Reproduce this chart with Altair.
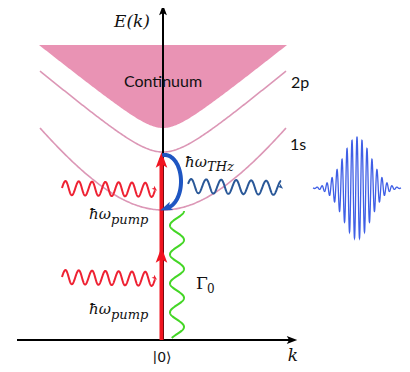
import numpy as np
import pandas as pd
import altair as alt

# ---- frame: data units are the reference picture's pixel positions ----
X_DOMAIN = [8, 402]
Y_DOMAIN = [8, 364]
W, H = 394, 356

# ---- energy axes ----
K0 = 163            # k = 0 position
E_BASE = 340        # ground state |0>
E_TOP = 12
K_LEFT, K_RIGHT = 17, 290

# ---- bands: continuum, 2p, 1s (vertex level, edge level, half width, roundness) ----
band_names = ["Continuum", "2p", "1s"]
band_vertex = [128, 152, 210]
band_edge = [45, 71, 128]
band_half_width = [124, 123, 123]
band_round = [22, 30, 110]

# ---- wavy photons: start, end, amplitude, period, phase, colour, width ----
wave_names = ["pump1", "pump2", "thz", "gamma"]
wave_start = [(62, 188), (62, 277), (188, 186), (177, 211)]
wave_end = [(155, 190), (155, 279), (281, 188), (177, 338)]
wave_amp = [7, 7, 7, 7]
wave_period = [13.3, 13.3, 15, 29]
wave_phase = [0.0, 0.0, 0.3, 1.6]
wave_color = ["#EE2233", "#EE2233", "#2A5898", "#44D626"]
wave_width = [2.0, 2.0, 2.0, 2.0]

# ---- THz pulse ----
pulse_center = (357, 188)
pulse_amp = 51
pulse_sigma = 14
pulse_period = 5.0
pulse_range = (313, 401)


def band_curve(vy, ey, hw, a, n=200):
    x = np.linspace(-hw, hw, n)
    f = lambda d: np.sqrt(1 + (d / a) ** 2) - 1
    y = vy - (vy - ey) * f(x) / f(hw)
    return K0 + x, y


def wave(p0, p1, amp, period, phase, n=500):
    (x0, y0), (x1, y1) = p0, p1
    L = np.hypot(x1 - x0, y1 - y0)
    ux, uy = (x1 - x0) / L, (y1 - y0) / L
    nx, ny = -uy, ux
    s = np.linspace(0, L, n)
    off = -amp * np.sin(2 * np.pi * s / period + phase)
    return x0 + ux * s + nx * off, y0 + uy * s + ny * off


xs = alt.Scale(domain=X_DOMAIN, nice=False, zero=False)
ys = alt.Scale(domain=Y_DOMAIN, nice=False, zero=False, reverse=True)


def X(f="x"):
    return alt.X(f"{f}:Q", scale=xs, axis=None)


def Y(f="y"):
    return alt.Y(f"{f}:Q", scale=ys, axis=None)


layers = []

# continuum fill
cx, cy = band_curve(band_vertex[0], band_edge[0], band_half_width[0], band_round[0])
cont = pd.DataFrame({"x": cx, "y": cy, "y2": band_edge[0]})
layers.append(
    alt.Chart(cont).mark_area(color="#E993B4", opacity=1, orient="vertical").encode(
        x=X(), y=Y(), y2="y2:Q"
    )
)

# exciton bands
rows = []
for k in (1, 2):
    bx, by = band_curve(band_vertex[k], band_edge[k], band_half_width[k], band_round[k])
    for i, (a, b) in enumerate(zip(bx, by)):
        rows.append({"id": band_names[k], "i": i, "x": a, "y": b})
layers.append(
    alt.Chart(pd.DataFrame(rows)).mark_line(color="#DC97B6", strokeWidth=1.6).encode(
        x=X(), y=Y(), detail="id:N", order="i:Q"
    )
)

# axes
axes = pd.DataFrame(
    {
        "x": [K0, K_LEFT],
        "y": [E_BASE, E_BASE],
        "x2": [K0, K_RIGHT],
        "y2": [E_TOP, E_BASE],
    }
)
layers.append(
    alt.Chart(axes).mark_rule(color="#000000", strokeWidth=2).encode(
        x=X(), y=Y(), x2="x2:Q", y2="y2:Q"
    )
)
ax_heads = pd.DataFrame({"x": [K0, K_RIGHT + 2], "y": [E_TOP - 2, E_BASE], "angle": [270, 0]})
arrow_path = "M1,0 L-1,-0.75 L-0.55,0 L-1,0.75 Z"
layers.append(
    alt.Chart(ax_heads).mark_point(shape=arrow_path, filled=True, color="#000000", size=110, opacity=1).encode(
        x=X(), y=Y(), angle=alt.Angle("angle:Q", scale=None)
    )
)

# wavy photons
rows = []
for n, p0, p1, a, per, ph, col, w in zip(
    wave_names, wave_start, wave_end, wave_amp, wave_period, wave_phase, wave_color, wave_width
):
    wx, wy = wave(p0, p1, a, per, ph)
    for i, (u, v) in enumerate(zip(wx, wy)):
        rows.append({"id": n, "i": i, "x": u, "y": v, "c": col, "w": w})
layers.append(
    alt.Chart(pd.DataFrame(rows)).mark_line().encode(
        x=X(), y=Y(), detail="id:N", order="i:Q",
        color=alt.Color("c:N", scale=None),
        strokeWidth=alt.StrokeWidth("w:Q", scale=None),
    )
)
# small arrow tips on the pump / THz photons
tips = pd.DataFrame(
    {
        "x": [wave_end[0][0], wave_end[1][0], wave_end[2][0]],
        "y": [wave_end[0][1] - 1, wave_end[1][1] - 1, wave_end[2][1] - 1],
        "angle": [40, 40, 40],
        "c": [wave_color[0], wave_color[1], wave_color[2]],
    }
)
layers.append(
    alt.Chart(tips).mark_point(shape=arrow_path, filled=True, size=30, opacity=1).encode(
        x=X(), y=Y(), angle=alt.Angle("angle:Q", scale=None), color=alt.Color("c:N", scale=None)
    )
)

# red pump arrow
red = pd.DataFrame({"x": [161.5], "y": [E_BASE], "y2": [band_vertex[1] + 6]})
layers.append(
    alt.Chart(red).mark_rule(color="#F01420", strokeWidth=4).encode(x=X(), y=Y(), y2="y2:Q")
)
red_heads = pd.DataFrame({"x": [161.5, 161.5], "y": [band_vertex[1] + 8, 255], "angle": [270, 270]})
layers.append(
    alt.Chart(red_heads).mark_point(shape=arrow_path, filled=True, color="#F01420", size=240, opacity=1).encode(
        x=X(), y=Y(), angle=alt.Angle("angle:Q", scale=None)
    )
)

# blue THz transition arc
t = np.radians(np.linspace(-100, 76, 120))
arc = pd.DataFrame({"i": range(len(t)), "x": 165 + 16 * np.cos(t), "y": 181.5 + 26.5 * np.sin(t)})
layers.append(
    alt.Chart(arc).mark_line(color="#1F56C2", strokeWidth=4).encode(x=X(), y=Y(), order="i:Q")
)
te = np.radians(76)
arc_head = pd.DataFrame({"x": [165 + 16 * np.cos(te) - 3], "y": [181.5 + 26.5 * np.sin(te) + 1],
                         "angle": [np.degrees(np.arctan2(26.5 * np.cos(te), -16 * np.sin(te)))]})
layers.append(
    alt.Chart(arc_head).mark_point(shape=arrow_path, filled=True, color="#1F56C2", size=150, opacity=1).encode(
        x=X(), y=Y(), angle=alt.Angle("angle:Q", scale=None)
    )
)

# THz pulse
px = np.linspace(pulse_range[0], pulse_range[1], 900)
env = np.exp(-((px - pulse_center[0]) ** 2) / (2 * pulse_sigma ** 2))
py = pulse_center[1] - pulse_amp * env * np.cos(2 * np.pi * (px - pulse_center[0]) / pulse_period)
layers.append(
    alt.Chart(pd.DataFrame({"i": range(len(px)), "x": px, "y": py})).mark_line(
        color="#3F5FE6", strokeWidth=1.3
    ).encode(x=X(), y=Y(), order="i:Q")
)


# ---- text ----
def txt(df, **kw):
    return alt.Chart(df).mark_text(**kw).encode(x=X(), y=Y(), text="t:N")


sans = pd.DataFrame({"t": ["Continuum", "2p", "1s"], "x": [163, 300, 298], "y": [82, 83, 145]})
layers.append(txt(sans, font="Lato", fontSize=16, color="#111111", align="center", baseline="middle"))

ek = pd.DataFrame({"t": ["E(k)"], "x": [132], "y": [27]})
layers.append(txt(ek, font="DejaVu Serif", fontStyle="italic", fontSize=17, color="#111111",
                  align="center", baseline="alphabetic"))

hw = pd.DataFrame({"t": ["ħω", "ħω", "ħω"], "x": [89, 89, 185], "y": [219, 314, 167]})
layers.append(txt(hw, font="DejaVu Serif", fontStyle="italic", fontSize=15, color="#111111",
                  align="left", baseline="alphabetic"))
subs = pd.DataFrame({"t": ["pump", "pump", "THz"], "x": [111, 111, 207], "y": [224, 319, 171]})
layers.append(txt(subs, font="DejaVu Serif", fontStyle="italic", fontSize=13, color="#111111",
                  align="left", baseline="alphabetic"))

kk = pd.DataFrame({"t": ["k"], "x": [293], "y": [361]})
layers.append(txt(kk, font="DejaVu Serif", fontStyle="italic", fontSize=17, color="#111111",
                  align="center", baseline="alphabetic"))

gam = pd.DataFrame({"t": ["Γ"], "x": [196], "y": [289]})
layers.append(txt(gam, font="DejaVu Serif", fontSize=17, color="#111111", align="left", baseline="alphabetic"))
gam0 = pd.DataFrame({"t": ["0"], "x": [207], "y": [293]})
layers.append(txt(gam0, font="DejaVu Serif", fontSize=12, color="#111111", align="left", baseline="alphabetic"))
ket = pd.DataFrame({"t": ["|0⟩"], "x": [162], "y": [362]})
layers.append(txt(ket, font="DejaVu Sans", fontSize=14, color="#111111", align="center", baseline="alphabetic"))

chart = alt.layer(*layers).properties(
    width=W, height=H, padding=0, autosize=alt.AutoSizeParams(type="none")
).configure_view(strokeWidth=0)

chart.save("out.html", embed_options={"renderer": "svg", "actions": False})
